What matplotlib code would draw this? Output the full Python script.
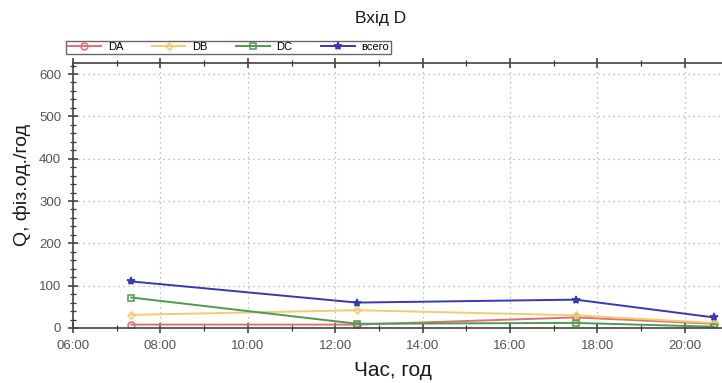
import matplotlib
matplotlib.use("Agg")
import matplotlib.pyplot as plt
from matplotlib.ticker import MultipleLocator, FuncFormatter

plt.rcParams['font.family'] = ['Liberation Sans', 'DejaVu Sans']

# Measurement times and flows per direction
times = ["07:20", "12:30", "17:30", "20:40"]
da = [8, 8, 25, 10]
db = [31, 42, 30, 12]
dc = [72, 10, 12, 3]
total = [110, 60, 67, 25]
series_labels = ["DA", "DB", "DC", "всего"]


def to_hours(t):
    h, m = t.split(":")
    return int(h) + int(m) / 60.0


x = [to_hours(t) for t in times]

fig = plt.figure(figsize=(7.22, 3.83), dpi=100)
ax = fig.add_axes([73 / 722, 55 / 383, 649 / 722, 265 / 383])

styles = [
    dict(color="#e07070", marker="o", mfc="none", ms=5),
    dict(color="#f2cc70", marker="D", mfc="none", ms=3.5),
    dict(color="#4e9a50", marker="s", mfc="none", ms=5),
    dict(color="#3838b0", marker="*", mfc="#3838b0", ms=6),
]
for vals, lab, st in zip([da, db, dc, total], series_labels, styles):
    ax.plot(x, vals, lw=1.4, mew=1.1, label=lab, **st)

ax.set_xlim(6, 20.85)
ax.set_ylim(0, 626)

ax.xaxis.set_major_locator(MultipleLocator(2))
ax.xaxis.set_minor_locator(MultipleLocator(1))
ax.yaxis.set_major_locator(MultipleLocator(100))
ax.yaxis.set_minor_locator(MultipleLocator(20))
ax.xaxis.set_major_formatter(FuncFormatter(lambda v, p: f"{int(round(v)):02d}:00"))

ax.grid(True, which="major", linestyle=(0, (1, 3)), color="#aaaaaa", lw=0.9)
ax.tick_params(which="major", direction="inout", length=7, width=1.1,
               color="#333333", labelsize=9.5, labelcolor="#555555", pad=5)
ax.tick_params(which="minor", direction="inout", length=4, width=0.9,
               color="#333333")
ax.tick_params(axis="x", top=True, which="both")

for side in ("left", "bottom", "top"):
    ax.spines[side].set_color("#444444")
    ax.spines[side].set_linewidth(1.2)
ax.spines["right"].set_visible(False)

fig.text(381 / 722, 1 - 18 / 383, "Вхід D", ha="center", va="center",
         fontsize=12.5, color="#1a1a1a")
ax.set_xlabel("Час, год", fontsize=15, color="#1a1a1a")
ax.xaxis.set_label_coords((393 - 73) / 649, -(370 - 328) / 265)
ax.xaxis.label.set_va("center")
ax.set_ylabel("Q, фіз.од./год", fontsize=14, color="#1a1a1a")
ax.yaxis.set_label_coords(-(73 - 22) / 649, (328 - 185) / 265)
ax.yaxis.label.set_va("center")

leg = fig.legend(loc="lower left", bbox_to_anchor=(66 / 722, 1 - 54 / 383),
                 ncol=4, fontsize=8, frameon=True, fancybox=False,
                 handlelength=3.0, columnspacing=2.6, handletextpad=0.6,
                 borderpad=0.15, borderaxespad=0)
leg.get_frame().set_edgecolor("#444444")
leg.get_frame().set_linewidth(1.0)

fig.savefig("out.png", dpi=100)
